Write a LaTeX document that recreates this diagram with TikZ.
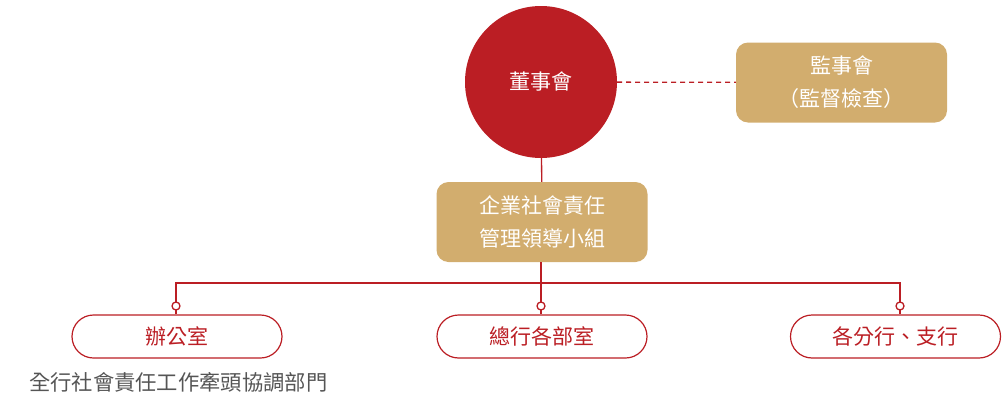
\documentclass[tikz,border=0pt]{standalone}
\usepackage{fontspec}
\setmainfont{Noto Sans CJK TC}
\usepackage{tikz}
\definecolor{bocred}{HTML}{BB1E24}
\definecolor{boctan}{HTML}{D2AD6E}
\definecolor{notegray}{HTML}{555555}
\tikzstyle{link} = [draw=bocred,line width=1.3]
\tikzstyle{dashlink} = [link,dashed,dash pattern=on 5 off 4]
\tikzstyle{board} = [circle,fill=bocred,text=white,minimum size=152,inner sep=0]
\tikzstyle{tanbox} = [rectangle,rounded corners=12,fill=boctan,text=white,minimum width=211,minimum height=80,align=center,inner sep=0]
\tikzstyle{unit} = [rectangle,rounded corners=21.5,draw=bocred,line width=1.2,text=bocred,fill=white,minimum width=210,minimum height=43,inner sep=0]
\tikzstyle{dot} = [circle,draw=bocred,line width=1.3,fill=white,minimum size=8,inner sep=0]

\begin{document}
\begin{tikzpicture}[x=1pt,y=-1pt,font=\fontsize{21}{33}\selectfont]
    \useasboundingbox (0,0) rectangle (1002,399);

    \node[board] (bod) at (541,82) {董事會};
    \node[tanbox] (sup) at (841.5,82.5) {監事會\\（監督檢查）};
    \node[tanbox] (csr) at (542,222) {企業社會責任\\管理領導小組};

    \node[unit] (office) at (177,336.5) {辦公室};
    \node[unit] (hq) at (542,336.5) {總行各部室};
    \node[unit] (branch) at (895.5,336.5) {各分行、支行};

    \node[anchor=west,text=notegray,inner sep=0,font=\fontsize{21.3}{26}\selectfont] (note) at (29,382) {全行社會責任工作牽頭協調部門};

    \coordinate (jl) at (176,283);
    \coordinate (jm) at (541,283);
    \coordinate (jr) at (900,283);

    \draw[dashlink] (bod) -- (sup);
    \draw[link] (bod) -- (csr);
    \draw[link] (csr.south -| jm) -- (jm) -- (hq.north -| jm);
    \draw[link] (office.north -| jl) -- (jl) -- (jr) -- (branch.north -| jr);

    \node[dot] (d1) at (176,306) {};
    \node[dot] (d2) at (541,306) {};
    \node[dot] (d3) at (900,306) {};

    \end{tikzpicture}
\end{document}
